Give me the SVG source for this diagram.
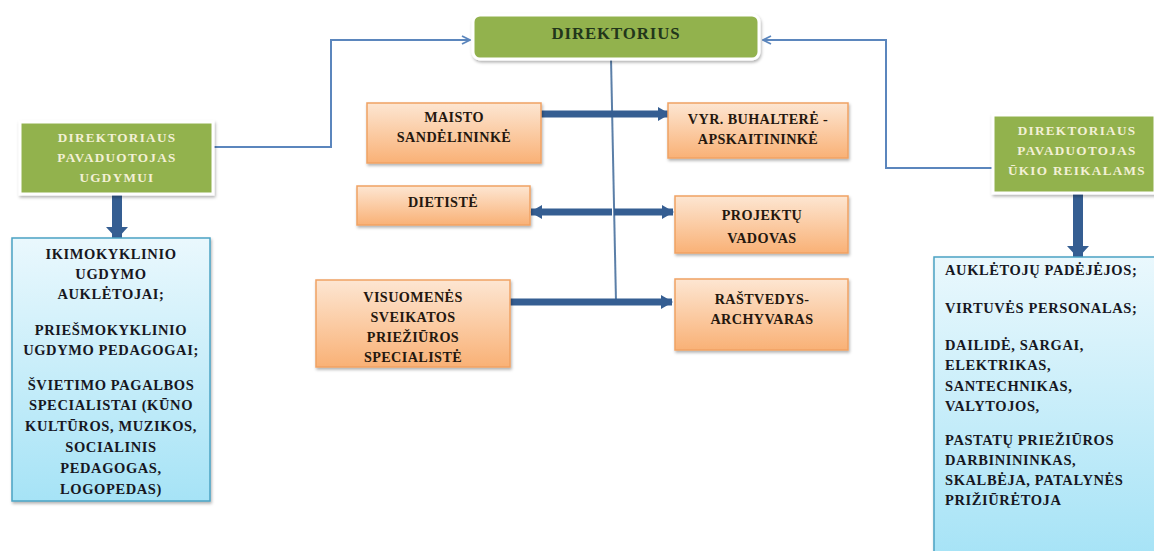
<svg xmlns="http://www.w3.org/2000/svg" width="1154" height="551" viewBox="0 0 1154 551" font-family="'Liberation Serif', 'Times New Roman', 'DejaVu Serif', serif" font-weight="bold">
<defs>
  <linearGradient id="gOrange" x1="0" y1="0" x2="0" y2="1">
    <stop offset="0" stop-color="#fde6d2"/>
    <stop offset="1" stop-color="#f9b176"/>
  </linearGradient>
  <linearGradient id="gBlue" x1="0" y1="0" x2="0" y2="1">
    <stop offset="0" stop-color="#eaf8fd"/>
    <stop offset="1" stop-color="#a6e3f6"/>
  </linearGradient>
  <filter id="sh" x="-10%" y="-10%" width="120%" height="130%">
    <feDropShadow dx="1" dy="2" stdDeviation="1.5" flood-color="#000" flood-opacity="0.3"/>
  </filter>
  <marker id="thinArrow" viewBox="0 0 10 10" refX="9" refY="5" markerWidth="10" markerHeight="10" markerUnits="userSpaceOnUse" orient="auto">
    <path d="M1,1 L9,5 L1,9" fill="none" stroke="#5b86bd" stroke-width="1.8"/>
  </marker>
  <marker id="thickArrow" viewBox="0 0 12 14" refX="11" refY="7" markerWidth="12" markerHeight="14" markerUnits="userSpaceOnUse" orient="auto">
    <path d="M0,0 L12,7 L0,14 Z" fill="#355e92"/>
  </marker>
  <marker id="downArrow" viewBox="0 0 22 12" refX="11" refY="11" markerWidth="22" markerHeight="12" markerUnits="userSpaceOnUse" orient="0">
    <path d="M0,0 L22,0 L11,12 Z" fill="#355e92"/>
  </marker>
</defs>
<style>
  .orange { fill: url(#gOrange); stroke: #f0a263; stroke-width: 1.5; filter: url(#sh); }
  .blue { fill: url(#gBlue); stroke: #4ba3c3; stroke-width: 1.5; filter: url(#sh); }
  .green { fill: #92b24e; stroke: #ffffff; stroke-width: 3; filter: url(#sh); }
  .ot { font-size: 14.2px; fill: #24170e; text-anchor: middle; letter-spacing: 0.4px; }
  .gt { font-size: 13.2px; fill: #f3f0d6; text-anchor: middle; letter-spacing: 1.3px; }
  .bt { font-size: 14.5px; fill: #17171f; letter-spacing: 0.6px; }
  .btc { text-anchor: middle; }
  .thin { fill: none; stroke: #5b86bd; stroke-width: 2; }
  .thick { fill: none; stroke: #355e92; stroke-width: 7; }
  .vthick { fill: none; stroke: #355e92; stroke-width: 10; }
</style>

<g id="connectors">
  <polyline class="thin" points="213,147 331,147 331,40 470,40" marker-end="url(#thinArrow)"/>
  <polyline class="thin" points="993,168 886,168 886,40 763,40" marker-end="url(#thinArrow)"/>
  <line x1="611" y1="58" x2="616" y2="302" stroke="#5b7fa8" stroke-width="2"/>
  <line class="thick" x1="541" y1="114" x2="669" y2="114" marker-end="url(#thickArrow)"/>
  <line class="thick" x1="612" y1="212" x2="531" y2="212" marker-end="url(#thickArrow)"/>
  <line class="thick" x1="614" y1="212" x2="673" y2="212" marker-end="url(#thickArrow)"/>
  <line class="thick" x1="510" y1="302" x2="672" y2="302" marker-end="url(#thickArrow)"/>
  <line class="vthick" x1="117" y1="194" x2="117" y2="238" marker-end="url(#downArrow)"/>
  <line class="vthick" x1="1078" y1="193" x2="1078" y2="257" marker-end="url(#downArrow)"/>
</g>

<g id="direktorius">
  <rect class="green" x="473" y="15" width="286" height="44" rx="7"/>
  <text x="616" y="39" font-size="16.8" fill="#22361b" text-anchor="middle" letter-spacing="0.9">DIREKTORIUS</text>
</g>

<g id="pavaduotojas-ugdymui">
  <rect class="green" x="20" y="122" width="193" height="72"/>
  <text class="gt" x="117" y="142">DIREKTORIAUS</text>
  <text class="gt" x="117" y="162">PAVADUOTOJAS</text>
  <text class="gt" x="117" y="182">UGDYMUI</text>
</g>

<g id="pavaduotojas-ukio">
  <rect class="green" x="993" y="115" width="162" height="78"/>
  <text class="gt" x="1077" y="135">DIREKTORIAUS</text>
  <text class="gt" x="1077" y="155">PAVADUOTOJAS</text>
  <text class="gt" x="1077" y="175">ŪKIO REIKALAMS</text>
</g>

<g id="maisto">
  <rect class="orange" x="367" y="103" width="174" height="60"/>
  <text class="ot" x="454" y="122">MAISTO</text>
  <text class="ot" x="454" y="142">SANDĖLININKĖ</text>
</g>

<g id="dietiste">
  <rect class="orange" x="357" y="186" width="173" height="39"/>
  <text class="ot" x="443" y="207">DIETISTĖ</text>
</g>

<g id="visuomenes">
  <rect class="orange" x="316" y="280" width="194" height="87"/>
  <text class="ot" x="413" y="302">VISUOMENĖS</text>
  <text class="ot" x="413" y="322">SVEIKATOS</text>
  <text class="ot" x="413" y="342">PRIEŽIŪROS</text>
  <text class="ot" x="413" y="362">SPECIALISTĖ</text>
</g>

<g id="buhaltere">
  <rect class="orange" x="668" y="103" width="180" height="55"/>
  <text class="ot" x="758" y="124">VYR. BUHALTERĖ -</text>
  <text class="ot" x="758" y="144">APSKAITININKĖ</text>
</g>

<g id="projektu">
  <rect class="orange" x="675" y="196" width="173" height="57"/>
  <text class="ot" x="762" y="220">PROJEKTŲ</text>
  <text class="ot" x="762" y="243">VADOVAS</text>
</g>

<g id="rastvedys">
  <rect class="orange" x="675" y="279" width="173" height="71"/>
  <text class="ot" x="762" y="304">RAŠTVEDYS-</text>
  <text class="ot" x="762" y="324">ARCHYVARAS</text>
</g>

<g id="ugdymo-personalas">
  <rect class="blue" x="12" y="238" width="198" height="263"/>
  <text class="bt btc" x="111" y="259">IKIMOKYKLINIO</text>
  <text class="bt btc" x="111" y="279">UGDYMO</text>
  <text class="bt btc" x="111" y="299">AUKLĖTOJAI;</text>
  <text class="bt btc" x="111" y="335">PRIEŠMOKYKLINIO</text>
  <text class="bt btc" x="111" y="355">UGDYMO PEDAGOGAI;</text>
  <text class="bt btc" x="111" y="390">ŠVIETIMO PAGALBOS</text>
  <text class="bt btc" x="111" y="410">SPECIALISTAI (KŪNO</text>
  <text class="bt btc" x="111" y="431">KULTŪROS, MUZIKOS,</text>
  <text class="bt btc" x="111" y="452">SOCIALINIS</text>
  <text class="bt btc" x="111" y="473">PEDAGOGAS,</text>
  <text class="bt btc" x="111" y="494">LOGOPEDAS)</text>
</g>

<g id="ukio-personalas">
  <rect class="blue" x="934" y="257" width="230" height="300"/>
  <text class="bt" x="945" y="275">AUKLĖTOJŲ PADĖJĖJOS;</text>
  <text class="bt" x="945" y="313">VIRTUVĖS PERSONALAS;</text>
  <text class="bt" x="945" y="350">DAILIDĖ, SARGAI,</text>
  <text class="bt" x="945" y="370">ELEKTRIKAS,</text>
  <text class="bt" x="945" y="391">SANTECHNIKAS,</text>
  <text class="bt" x="945" y="411">VALYTOJOS,</text>
  <text class="bt" x="945" y="445">PASTATŲ PRIEŽIŪROS</text>
  <text class="bt" x="945" y="465">DARBINININKAS,</text>
  <text class="bt" x="945" y="485">SKALBĖJA, PATALYNĖS</text>
  <text class="bt" x="945" y="505">PRIŽIŪRĖTOJA</text>
</g>
</svg>
